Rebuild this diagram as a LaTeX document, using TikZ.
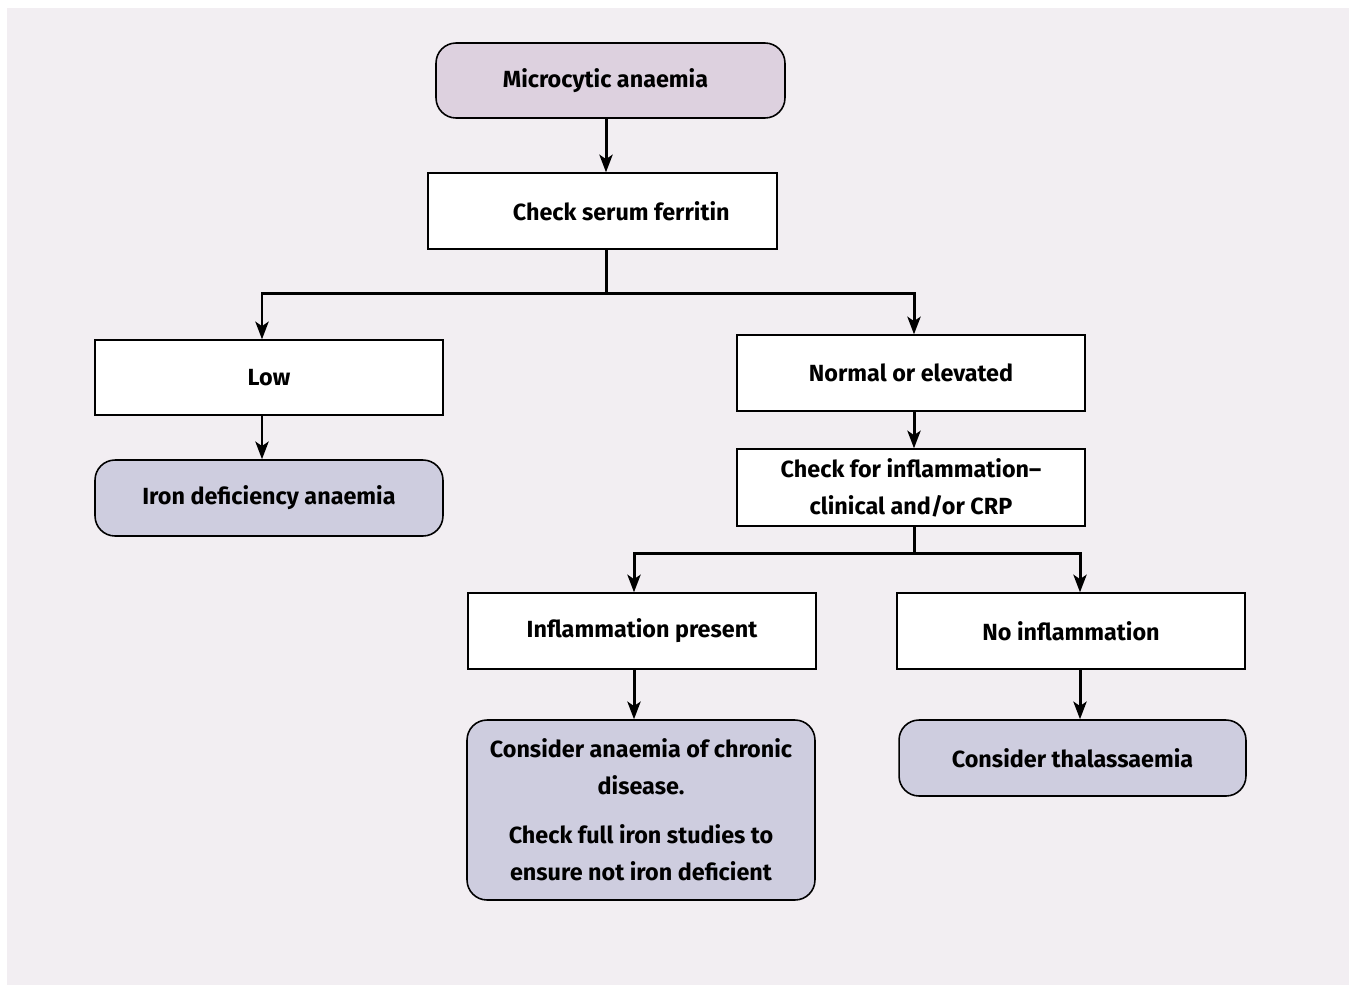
\documentclass[tikz,border=0pt]{standalone}
\usepackage{fontspec}
\setmainfont{Fira Sans}
\usepackage{tikz}
\usetikzlibrary{calc,arrows.meta}
\definecolor{panel}{HTML}{F2EEF2}
\definecolor{lilac}{HTML}{DDD1DF}
\definecolor{lavender}{HTML}{CECDDF}
\tikzset{
  box/.style={draw=black, fill=white, line width=0.8pt, minimum width=6.96cm, minimum height=1.52cm,
    align=center, inner sep=2pt, font=\fontsize{13.3}{21}\selectfont\bfseries},
  start/.style={box, fill=lilac, rounded corners=0.4cm, line width=0.9pt},
  result/.style={box, fill=lavender, rounded corners=0.4cm, line width=0.9pt},
  arr/.style={draw=black, line width=1.7pt, -{Stealth[length=10pt,width=7.5pt,inset=2.5pt]}},
  link/.style={draw=black, line width=1.7pt},
}

\begin{document}
\begin{tikzpicture}[x=0.02cm,y=-0.02cm]
  \fill[white] (0,0) rectangle (1349,985);
  \fill[panel] (7,8) rectangle (1349,985);
  \node[start]  (micro)    at (610.5,80.5) [minimum width=6.98cm, minimum height=1.5cm] {Microcytic anaemia\hspace*{0.2cm}};
  \node[box]    (ferritin) at (602.5,211) [minimum width=6.98cm] {\hspace*{0.75cm}Check serum ferritin};
  \node[box]    (low)      at (269,377.5) [minimum height=1.5cm] {Low};
  \node[result] (iron)     at (269,498) {Iron deficiency anaemia};
  \node[box]    (normal)   at (911,373) {Normal or elevated};
  \node[box]    (inflam)   at (911,487.5) [minimum height=1.54cm] {Check for inflammation–\\clinical and/or CRP};
  \node[box]    (present)  at (642,631) {Inflammation present};
  \node[box]    (noinf)    at (1071,631) {No inflammation};
  \node[result] (chronic)  at (641,810) [minimum height=3.6cm] {Consider anaemia of chronic\\disease.\\[7pt]Check full iron studies to\\ensure not iron deficient};
  \node[result] (thal)     at (1072.5,758) [minimum width=6.94cm] {Consider thalassaemia};
  \coordinate (mx) at (606,0);
  \coordinate (lx) at (262,0);
  \coordinate (nx) at (914,0);
  \coordinate (px) at (634,0);
  \coordinate (qx) at (1080,0);
  \coordinate (b1) at (606,293);
  \coordinate (b2) at (914,553);
  \draw[arr] (micro.south -| mx) -- (ferritin.north -| mx);
  \draw[link] (ferritin.south -| mx) -- (b1);
  \draw[arr] (b1) -| (low.north -| lx);
  \draw[arr] (b1) -| (normal.north -| nx);
  \draw[arr] (low.south -| lx) -- (iron.north -| lx);
  \draw[arr] (normal.south -| nx) -- (inflam.north -| nx);
  \draw[link] (inflam.south -| nx) -- (b2);
  \draw[arr] (b2) -| (present.north -| px);
  \draw[arr] (b2) -| (noinf.north -| qx);
  \draw[arr] (present.south -| px) -- (chronic.north -| px);
  \draw[arr] (noinf.south -| qx) -- (thal.north -| qx);
\end{tikzpicture}
\end{document}
